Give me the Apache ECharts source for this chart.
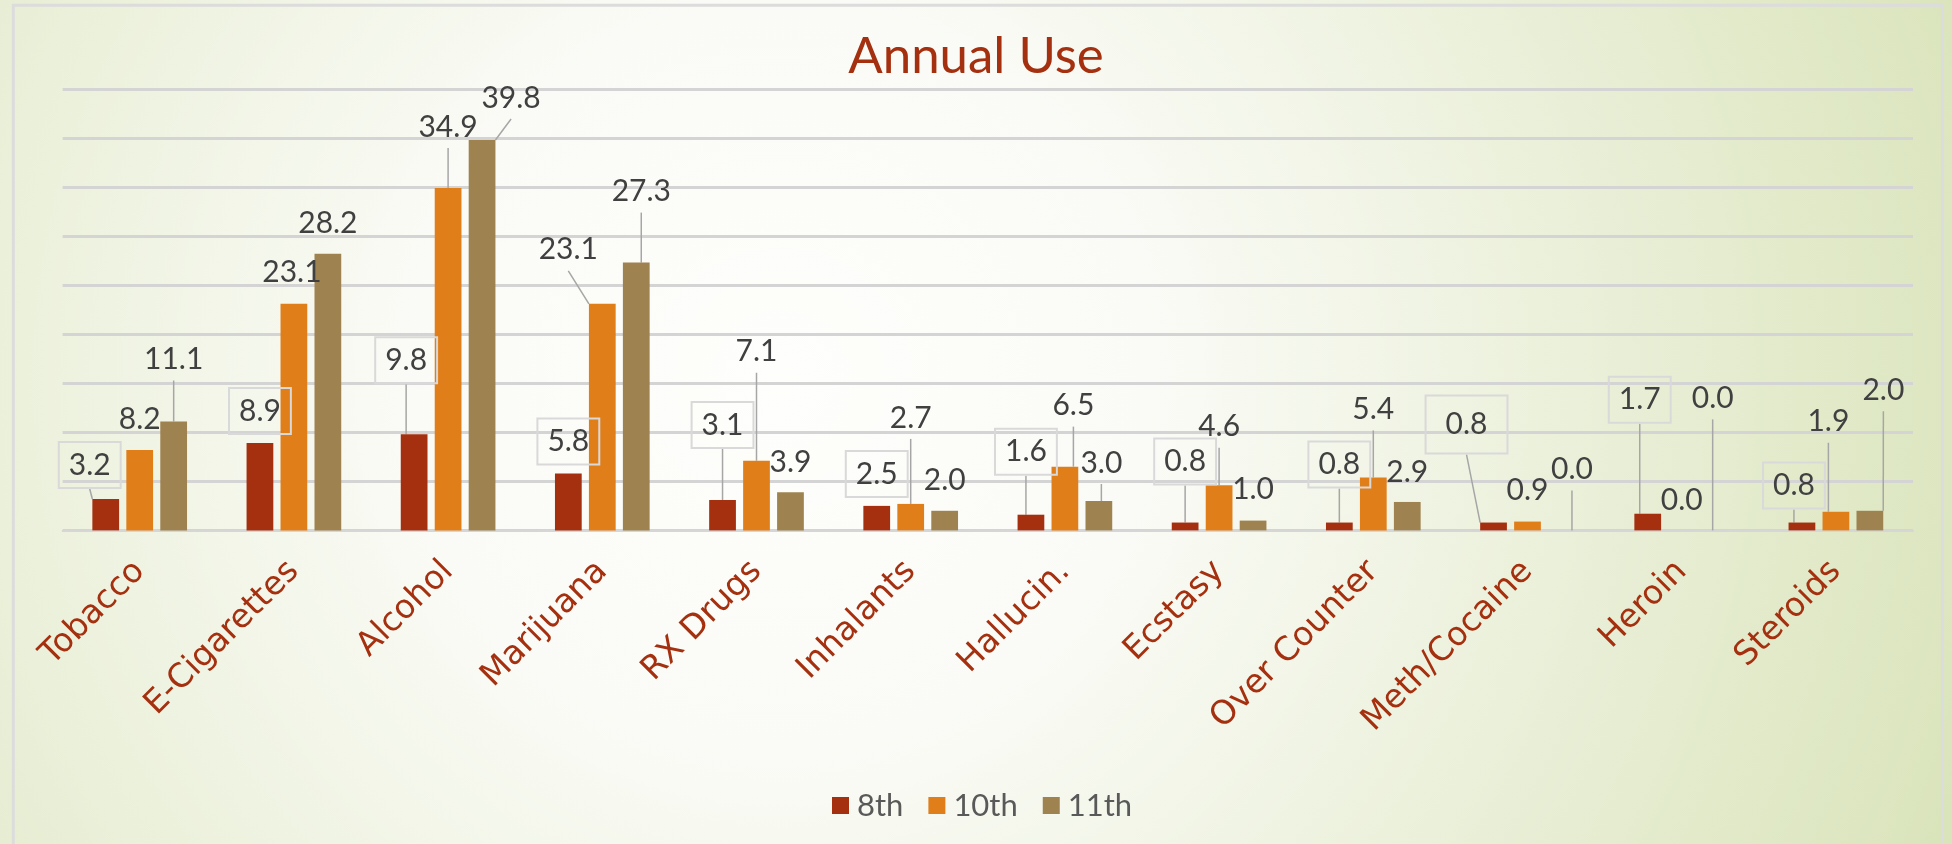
<!DOCTYPE html>
<html><head><meta charset="utf-8">
<script src="https://cdn.jsdelivr.net/npm/echarts@6/dist/echarts.min.js"></script>
<style>html,body{margin:0;padding:0;width:1952px;height:844px;overflow:hidden}#c{width:1952px;height:844px}</style>
</head><body><div id="c"></div>
<script>
// ---- data ----
const categories = ['Tobacco','E-Cigarettes','Alcohol','Marijuana','RX Drugs','Inhalants','Hallucin.','Ecstasy','Over Counter','Meth/Cocaine','Heroin','Steroids'];
const seriesNames = ['8th','10th','11th'];
const grade8  = [3.2, 8.9, 9.8, 5.8, 3.1, 2.5, 1.6, 0.8, 0.8, 0.8, 1.7, 0.8];
const grade10 = [8.2, 23.1, 34.9, 23.1, 7.1, 2.7, 6.5, 4.6, 5.4, 0.9, 0.0, 1.9];
const grade11 = [11.1, 28.2, 39.8, 27.3, 3.9, 2.0, 3.0, 1.0, 2.9, 0.0, 0.0, 2.0];
const yMin = 0, yMax = 45, yInterval = 5;

// ---- label placement styles: offset of label centre from bar-top centre (px), leader-line flags ----
const labelOffsets8  = [[-16,34],[0,32],[-8,74],[0,32],[0,75],[0,32],[-5,63],[0,61],[0,58],[-27,98],[-8,114],[-8,37]];
const leader8        = [1,0,1,0,1,0,1,1,1,1,1,1];
const wideBox8       = [0,0,0,0,0,0,0,0,0,1,0,0];
const labelOffsets10 = [[0,31],[-2,31],[0,61],[-34,54],[0,109],[0,86],[8.5,61],[0,58.5],[0,68],[0,31],[0,30],[-7.5,90]];
const leader10       = [0,0,1,1,1,1,1,1,1,0,0,1];
const labelOffsets11 = [[0,62],[0,30],[29,42],[5,71],[0,30],[0,30.5],[2.5,38],[0,31],[0,30],[10.5,61],[-3,132],[13.5,120.5]];
const leader11       = [1,0,1,1,0,0,1,0,0,1,1,1];

const colors = ['#A5300F', '#E07E1A', '#9E8250'];
const FONT = 'Lato';
const offsets = [labelOffsets8, labelOffsets10, labelOffsets11];

function buildData(values, leaders, boxed, wide) {
  return values.map((v, i) => {
    const item = { value: v, labelLine: { show: !!leaders[i] } };
    if (boxed) item.label = { padding: wide[i] ? [14, 20] : [8, 10] };
    return item;
  });
}

function makeSeries(idx, values, leaders, boxed, wide) {
  const label = {
    show: true, position: 'top',
    formatter: p => Number(p.value).toFixed(1),
    fontFamily: FONT, fontSize: 30, lineHeight: 30, color: '#404040',
    padding: [6, 4]
  };
  if (boxed) { label.borderColor = '#d9d9d9'; label.borderWidth = 2; }
  return {
    name: seriesNames[idx], type: 'bar',
    data: buildData(values, leaders, boxed, wide),
    itemStyle: { color: colors[idx] },
    barGap: '27%', barCategoryGap: '38.6%',
    label: label,
    labelLine: { show: true, length2: 0, lineStyle: { color: '#a6a6a6', width: 1.5 } },
    labelLayout: function (p) {
      const off = offsets[p.seriesIndex][p.dataIndex];
      return { x: p.rect.x + p.rect.width / 2 + off[0], y: p.rect.y - off[1], align: 'center', verticalAlign: 'middle' };
    }
  };
}

const chart = echarts.init(document.getElementById('c'), null, { renderer: 'canvas' });
chart.setOption({
  animation: false,
  backgroundColor: {
    type: 'radial', x: 780, y: 380, r: 1250, global: true,
    colorStops: [{ offset: 0, color: '#fefefc' }, { offset: 0.3, color: '#fafbf6' }, { offset: 1, color: '#dae4bb' }]
  },
  graphic: [{
    type: 'rect', silent: true, z: -1,
    shape: { x: 13.3, y: 5.3, width: 1929.2, height: 860 },
    style: { fill: null, stroke: '#dcdcdc', lineWidth: 3 }
  }],
  title: {
    text: 'Annual Use', left: 'center', top: 26,
    textStyle: { fontFamily: FONT, fontSize: 51, fontWeight: 'normal', color: '#A5300F' }
  },
  legend: {
    data: seriesNames, left: 832, top: 790, padding: 0, icon: 'rect',
    itemWidth: 17, itemHeight: 17, itemGap: 25,
    textStyle: { fontFamily: FONT, fontSize: 31, color: '#595959', padding: [0, 0, 0, 3] }
  },
  grid: { left: 62.6, right: 39, top: 89, bottom: 313.6 },
  xAxis: {
    type: 'category', data: categories,
    axisTick: { show: false },
    axisLine: { lineStyle: { color: '#d6d6d6', width: 2 } },
    axisLabel: { rotate: 45, margin: 36, interval: 0, fontFamily: 'DejaVu Sans', fontSize: 33, color: '#A5300F' }
  },
  yAxis: {
    type: 'value', min: yMin, max: yMax, interval: yInterval,
    axisLabel: { show: false }, axisLine: { show: false }, axisTick: { show: false },
    splitLine: { lineStyle: { color: '#d4d4d4', width: 3 } }
  },
  series: [
    makeSeries(0, grade8, leader8, true, wideBox8),
    makeSeries(1, grade10, leader10, false, null),
    makeSeries(2, grade11, leader11, false, null)
  ]
});
</script>
</body></html>
